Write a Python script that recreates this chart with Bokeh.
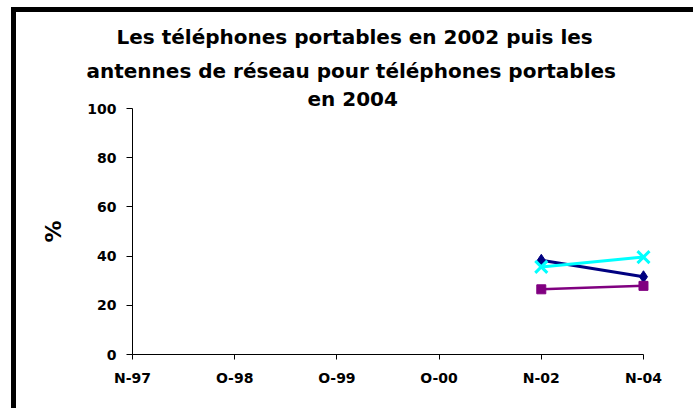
from bokeh.plotting import figure
from bokeh.models import Range1d, FixedTicker, Title
from bokeh.embed import file_html
from bokeh.resources import INLINE

categories = ["N-97", "O-98", "O-99", "O-00", "N-02", "N-04"]
serie_1 = [float("nan"), float("nan"), float("nan"), float("nan"), 38.3, 31.6]
serie_2 = [float("nan"), float("nan"), float("nan"), float("nan"), 26.5, 27.9]
serie_3 = [float("nan"), float("nan"), float("nan"), float("nan"), 35.6, 39.6]
y_ticks = [0, 20, 40, 60, 80, 100]
title_lines = ["Les téléphones portables en 2002 puis les",
               "antennes de réseau pour téléphones portables",
               "en 2004"]

FONT = "DejaVu Sans"
x = list(range(len(categories)))
n = len(categories) - 1

p = figure(width=693, height=408, output_backend="svg", toolbar_location=None,
           x_range=Range1d(0, n + 0.147), y_range=Range1d(0, 100),
           min_border_left=132, min_border_right=35, min_border_top=108,
           min_border_bottom=54)
p.styles = {"box-shadow": "inset 0 7px 0 0 white, inset 11px 0 0 0 white, "
                          "inset 16px 12px 0 0 black"}
p.outline_line_color = None
p.grid.visible = False
p.background_fill_color = None
p.border_fill_color = None

# x axis
xa = p.xaxis[0]
xa.ticker = FixedTicker(ticks=x)
xa.bounds = (0, n)
xa.major_label_overrides = {i: c for i, c in enumerate(categories)}
xa.minor_tick_line_color = None
xa.major_tick_in = 0
xa.major_tick_out = 5
xa.major_label_standoff = 10
xa.major_label_text_font = FONT
xa.major_label_text_font_style = "bold"
xa.major_label_text_font_size = "14px"
xa.major_label_text_color = "black"
xa.axis_line_color = "black"
xa.major_tick_line_color = "black"

# y axis
ya = p.yaxis[0]
ya.ticker = FixedTicker(ticks=y_ticks)
ya.minor_tick_line_color = None
ya.major_tick_in = 0
ya.major_tick_out = 6
ya.major_label_standoff = 10
ya.major_label_text_font = FONT
ya.major_label_text_font_style = "bold"
ya.major_label_text_font_size = "14px"
ya.major_label_text_color = "black"
ya.axis_line_color = "black"
ya.major_tick_line_color = "black"
ya.axis_label = "%"
ya.axis_label_text_font = FONT
ya.axis_label_text_font_style = "bold"
ya.axis_label_text_font_size = "22px"
ya.axis_label_text_color = "black"
ya.axis_label_standoff = 18

# series
p.line(x, serie_1, line_color="#000080", line_width=3)
p.scatter(x, serie_1, marker="diamond", size=12, fill_color="#000080",
          line_color="#000080")
p.line(x, serie_2, line_color="#800080", line_width=2.5)
p.scatter(x, serie_2, marker="square", size=9, fill_color="#800080",
          line_color="#800080")
p.line(x, serie_3, line_color="#00FFFF", line_width=3)
p.scatter(x, serie_3, marker="x", size=17, line_color="#00FFFF", line_width=3)

# title: three lines stacked above the frame (last added is outermost)
for txt, off, so in zip(reversed(title_lines), [175, -46, -16], [-5, 10, 5]):
    p.add_layout(Title(text=txt, align="left", offset=off, standoff=so,
                       text_font=FONT, text_font_style="bold",
                       text_font_size="20px", text_color="black"), "above")

open("out.html", "w").write(file_html(p, INLINE))
